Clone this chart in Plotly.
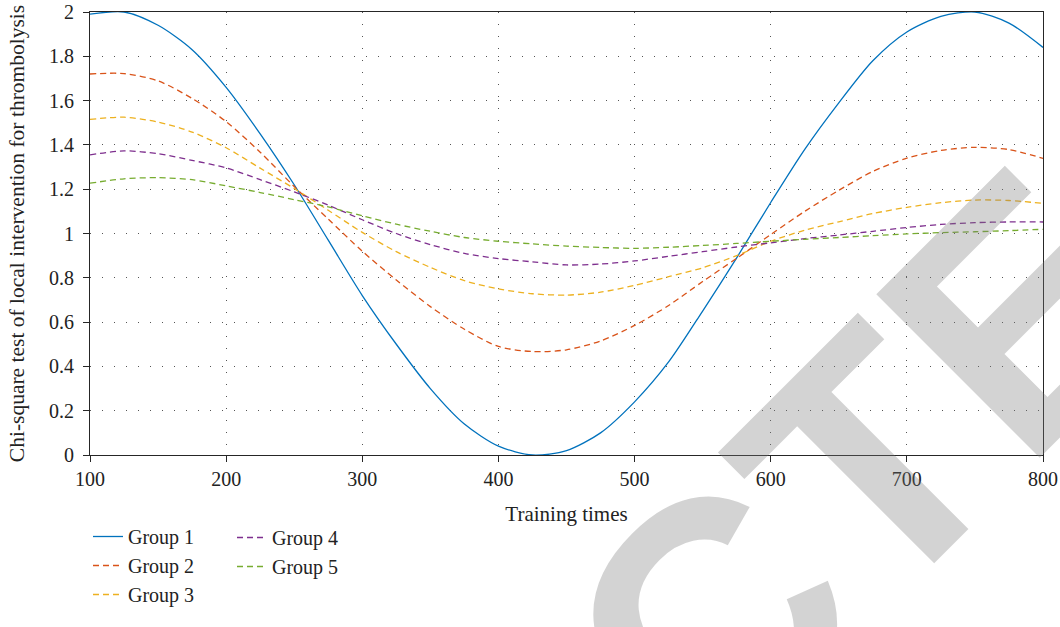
import plotly.graph_objects as go

x_vals = list(range(100, 801, 25))

group1 = [1.99, 2.00, 1.94, 1.83, 1.66, 1.45, 1.22, 0.97, 0.72, 0.50, 0.30, 0.14, 0.04, 0.00, 0.02,
          0.10, 0.24, 0.42, 0.65, 0.89, 1.14, 1.38, 1.59, 1.78, 1.91, 1.98, 2.00, 1.95, 1.84]
group2 = [1.72, 1.722, 1.689, 1.61, 1.505, 1.367, 1.212, 1.065, 0.92, 0.79, 0.67, 0.568, 0.49, 0.467, 0.475,
          0.515, 0.585, 0.675, 0.783, 0.888, 0.995, 1.10, 1.195, 1.28, 1.34, 1.375, 1.389, 1.379, 1.339]
group3 = [1.515, 1.525, 1.503, 1.458, 1.387, 1.295, 1.203, 1.105, 1.005, 0.918, 0.847, 0.787, 0.75, 0.728, 0.722,
          0.735, 0.766, 0.805, 0.845, 0.90, 0.965, 1.015, 1.053, 1.09, 1.118, 1.139, 1.151, 1.149, 1.136]
group4 = [1.355, 1.373, 1.36, 1.33, 1.296, 1.243, 1.188, 1.128, 1.062, 1.0, 0.95, 0.91, 0.887, 0.872, 0.858,
          0.862, 0.876, 0.897, 0.918, 0.939, 0.958, 0.977, 0.993, 1.01, 1.027, 1.041, 1.049, 1.052, 1.052]
group5 = [1.227, 1.247, 1.252, 1.243, 1.215, 1.185, 1.153, 1.12, 1.08, 1.042, 1.01, 0.982, 0.965, 0.953, 0.943,
          0.937, 0.933, 0.938, 0.946, 0.955, 0.965, 0.974, 0.982, 0.99, 0.998, 1.004, 1.008, 1.013, 1.019]

names = ["Group 1", "Group 2", "Group 3", "Group 4", "Group 5"]
series = [group1, group2, group3, group4, group5]
colors = ["#0072BD", "#D95319", "#EDB120", "#7E2F8E", "#77AC30"]
dashes = ["solid", "6px,4px", "6px,4px", "6px,4px", "6px,4px"]
legends = ["legend", "legend", "legend", "legend2", "legend2"]

x_ticks = [100, 200, 300, 400, 500, 600, 700, 800]
y_ticks = [0, 0.2, 0.4, 0.6, 0.8, 1, 1.2, 1.4, 1.6, 1.8, 2]
y_tick_text = ["0", "0.2", "0.4", "0.6", "0.8", "1", "1.2", "1.4", "1.6", "1.8", "2"]

FONT = "Liberation Serif"
TXT = "#222222"

# plot-area geometry (pixels) used only to place the legend/watermark in paper units
FW, FH = 1060, 627
L, R, T, B = 90, 17, 12, 172
W, H = FW - L - R, FH - T - B


def px_x(p):
    return (p - L) / W


def px_y(p):
    return (T + H - p) / H


fig = go.Figure()
for i, (n, s) in enumerate(zip(names, series)):
    fig.add_trace(go.Scatter(
        x=x_vals, y=s, name=n, mode="lines",
        line=dict(color=colors[i], width=1.3, dash=dashes[i], shape="spline", smoothing=0.8),
        legend=legends[i], legendgroup=n,
    ))

axis_common = dict(
    showline=True, linecolor="#262626", linewidth=1.2, mirror=True,
    ticks="outside", ticklen=6, tickcolor="#262626", tickwidth=1.2,
    showgrid=True, gridcolor="#555555", gridwidth=1, griddash="1px,11px",
    zeroline=False, tickfont=dict(family=FONT, size=20, color=TXT),
)

fig.update_xaxes(range=[100, 800], tickvals=x_ticks, automargin="bottom", **axis_common,
                 title=dict(text="Training times", font=dict(family=FONT, size=21, color=TXT), standoff=17))
fig.update_yaxes(range=[0, 2], tickvals=y_ticks, ticktext=y_tick_text, ticklabelstandoff=5,
                 automargin="left", **axis_common,
                 title=dict(text="Chi-square test of local intervention for thrombolysis",
                            font=dict(family=FONT, size=21.5, color=TXT), standoff=18))

leg_common = dict(orientation="v", xanchor="left",
                  bgcolor="rgba(0,0,0,0)", font=dict(family=FONT, size=20, color=TXT),
                  tracegroupgap=0, itemwidth=30)

fig.update_layout(
    width=FW, height=FH,
    margin=dict(l=L, r=R, t=T, b=B),
    paper_bgcolor="white", plot_bgcolor="rgba(0,0,0,0)",
    legend=dict(x=px_x(88), y=px_y(614), yanchor="bottom", **leg_common),
    legend2=dict(x=px_x(232), y=px_y(518), yanchor="top", **leg_common),
    annotations=[dict(
        text="<b>CTE</b>", xref="paper", yref="paper",
        x=px_x(862), y=px_y(470), xanchor="center", yanchor="middle",
        showarrow=False, textangle=-45,
        font=dict(family="Liberation Sans", size=336, color="rgba(120,120,120,0.33)"),
    )],
)

fig.write_html("out.html", config={"displayModeBar": False},
               post_script="document.body.style.margin='0px';")
